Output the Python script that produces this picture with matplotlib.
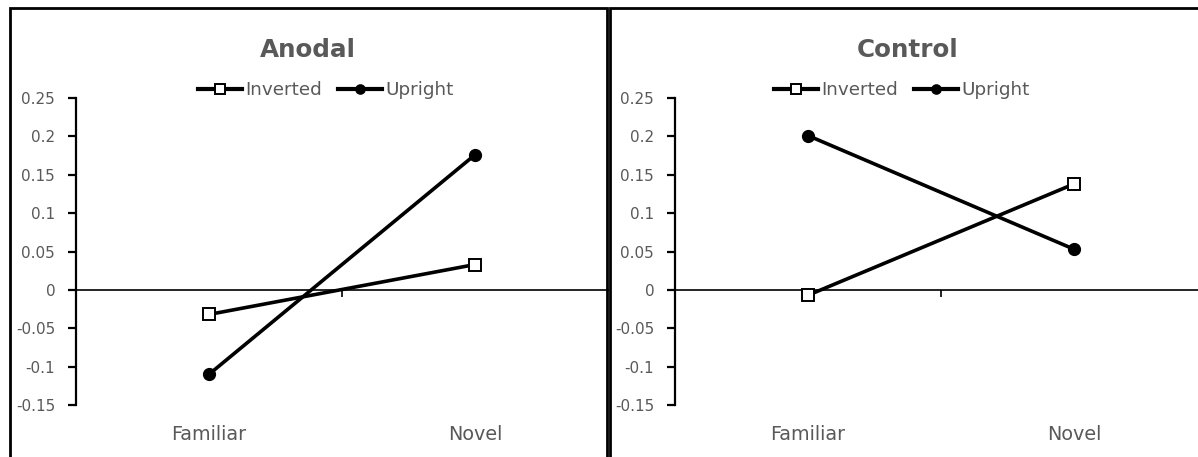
import matplotlib
matplotlib.use("Agg")
import matplotlib.pyplot as plt
from matplotlib.patches import Rectangle

# ---- data ----
categories = ["Familiar", "Novel"]
panels = ["Anodal", "Control"]
anodal_inverted = [-0.032, 0.033]
anodal_upright = [-0.110, 0.176]
control_inverted = [-0.007, 0.138]
control_upright = [0.201, 0.053]
yticks = [0.25, 0.2, 0.15, 0.1, 0.05, 0, -0.05, -0.1, -0.15]
ytick_labels = ["0.25", "0.2", "0.15", "0.1", "0.05", "0", "-0.05", "-0.1", "-0.15"]

W, H = 1198, 457
fig = plt.figure(figsize=(W / 100, H / 100), dpi=100)
fig.patch.set_facecolor("white")

GRAY = "#595959"
FONT = ["DejaVu Sans"]

# panel frames (pixels)
frames = [(10, 8, 597), (610, 8, 597)]
for (x0, y0, w) in frames:
    fig.patches.append(Rectangle((x0 / W, -0.1), w / W, 1.1 - y0 / H,
                                 transform=fig.transFigure, fill=False,
                                 edgecolor="black", linewidth=2.0, zorder=0))

axes_left_px = [76, 675]
title_x_px = [308, 908]
legend_x_px = [326, 902]
data = [(anodal_inverted, anodal_upright), (control_inverted, control_upright)]

for i, name in enumerate(panels):
    lx = axes_left_px[i]
    ax = fig.add_axes([lx / W, 1 - 405 / H, 532 / W, 307 / H])
    ax.set_facecolor("none")
    inv, up = data[i]
    xs = list(range(len(categories)))
    ax.plot(xs, inv, color="black", lw=2.6, marker="s", markersize=8.5,
            markerfacecolor="white", markeredgecolor="black", markeredgewidth=1.4,
            label="Inverted", zorder=3)
    ax.plot(xs, up, color="black", lw=2.6, marker="o", markersize=8.5,
            markerfacecolor="black", markeredgecolor="black",
            label="Upright", zorder=3)
    ax.set_xlim(-0.5, 1.5)
    ax.set_ylim(-0.15, 0.25)
    for s in ["top", "right"]:
        ax.spines[s].set_visible(False)
    ax.spines["left"].set_linewidth(1.6)
    ax.spines["bottom"].set_position(("data", 0))
    ax.spines["bottom"].set_linewidth(1.2)
    ax.set_yticks(yticks)
    ax.set_yticklabels(ytick_labels, fontsize=11, color=GRAY, family=FONT)
    ax.tick_params(axis="y", length=6, width=1.6, direction="out", pad=9)
    ax.set_xticks([0.5])
    ax.set_xticklabels([""])
    ax.tick_params(axis="x", length=5, width=1.2, direction="out")
    for j, c in enumerate(categories):
        ax.text(j, -0.1956, c, ha="center", va="baseline",
                fontsize=13.8, color=GRAY, family=FONT)
    fig.text(title_x_px[i] / W, 1 - 57 / H, name, ha="center", va="baseline",
             fontsize=17.7, fontweight="bold", color=GRAY, family=FONT)
    leg = ax.legend(loc="center", bbox_to_anchor=(legend_x_px[i] / W, 1 - 90 / H),
                    bbox_transform=fig.transFigure, ncol=2, frameon=False,
                    handlelength=2.4, handletextpad=0.15, markerscale=0.78,
                    columnspacing=0.9, borderpad=0, prop={"family": FONT, "size": 13.2})
    for t in leg.get_texts():
        t.set_color(GRAY)
    for h in leg.legend_handles:
        h.set_linewidth(3.0)

fig.savefig("out.png", dpi=100)
